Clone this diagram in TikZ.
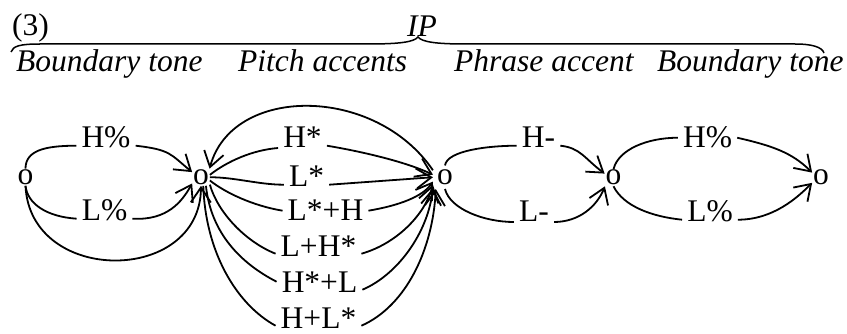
\documentclass[tikz,border=0pt]{standalone}
\usepackage{fontspec}
\setmainfont{Liberation Serif}
\usetikzlibrary{arrows.meta}
\begin{document}
\begin{tikzpicture}[x=1pt,y=-1pt,
  every node/.style={font=\fontsize{31.5pt}{36pt}\selectfont},
  st/.style={inner sep=0.8pt, anchor=base},
  lbl/.style={inner xsep=5pt, inner ysep=2pt, anchor=base},
  hd/.style={font=\fontsize{31.5pt}{36pt}\selectfont\itshape, inner sep=0pt, anchor=base west},
  ed/.style={line width=1.8pt},
  ar/.style={ed, -{Straight Barb[length=15pt,width=20pt]}},
  brace/.style={line width=1.5pt}
]
\useasboundingbox (0,0) rectangle (847,334);

% header
\node[inner sep=0pt, anchor=base west] (num) at (12,36) {(3)};
\node[inner sep=0pt, anchor=base, font=\fontsize{31.5pt}{36pt}\selectfont\itshape] (ip) at (422,37) {IP};
\draw[brace] (11,52) .. controls (13,46) and (20,44) .. (40,44) -- (368,44)
  .. controls (400,44) and (414,42) .. (418,37)
  .. controls (422,42) and (436,44) .. (466,44) -- (795,44)
  .. controls (812,44) and (822,47) .. (824,53);
\node[hd] (bt1) at (16,72) {Boundary tone};
\node[hd] (pa) at (238,72) {Pitch accents};
\node[hd] (pha) at (454,72) {Phrase accent};
\node[hd] (bt2) at (657,72) {Boundary tone};

% states
\node[st] (s0) at (25.5,184.5) {o};
\node[st] (s1) at (201,184.5) {o};
\node[st, inner sep=4pt] (s2) at (445,184.5) {o};
\node[st] (s3) at (613.5,185) {o};
\node[st] (s4) at (821,185) {o};

% labels
\node[lbl] (h1) at (106,148) {H\%};
\node[lbl] (l1) at (104.5,221) {L\%};
\node[lbl] (hs) at (302.5,148) {H*};
\node[lbl] (ls) at (306.5,187) {L*};
\node[lbl] (lsh) at (325.5,221) {L*+H};
\node[lbl] (lhs) at (318.5,256) {L+H*};
\node[lbl] (hsl) at (319.5,292) {H*+L};
\node[lbl] (hls) at (318.5,328) {H+L*};
\node[lbl] (hm) at (538.5,148) {H-};
\node[lbl] (lm) at (534,222) {L-};
\node[lbl] (h2) at (707.5,148) {H\%};
\node[lbl] (l2) at (710,222) {L\%};

% initial boundary tone
\draw[ed] (s0.north) .. controls +(0,-18) and +(-32,0) .. (h1.mid west);
\draw[ar] (h1.mid east) .. controls +(35,4) and +(-22,-18) .. (s1.150);
\draw[ed] (s0.south) .. controls +(2,18) and +(-30,-2) .. (l1.mid west);
\draw[ar] (l1.mid east) .. controls +(35,2) and +(-10,18) .. (s1.215);
\draw[ar] (s0.south) .. controls (30,285) and (200,285) .. (s1.south);

% pitch accents
\draw[ar] (s2.150) .. controls (375,85) and (232,85) .. (s1.45);
\draw[ed] (s1.15) .. controls +(18,-14) and +(-25,2) .. (hs.base west);
\draw[ed] (s1.east) .. controls +(25,0) and +(-25,0) .. (ls.mid west);
\draw[ed] (s1.-20) .. controls +(15,12) and +(-30,-5) .. (lsh.west);
\draw[ed] (s1.-40) .. controls +(8,28) and +(-30,-12) .. (lhs.mid west);
\draw[ed] (s1.-60) .. controls +(5,48) and +(-35,-18) .. (hsl.west);
\draw[ed] (s1.-75) .. controls +(2,65) and +(-40,-22) .. (hls.mid west);
\draw[ar] (hs.mid east) .. controls +(30,5) and +(-30,-14) .. (s2.168);
\draw[ar] (ls.mid east) -- (s2.west);
\draw[ar] (lsh.east) .. controls +(30,-5) and +(-10,15) .. (s2.200);
\draw[ar] (lhs.mid east) .. controls +(35,-10) and +(-8,30) .. (s2.212);
\draw[ar] (hsl.mid east) .. controls +(35,-15) and +(-5,45) .. (s2.222);
\draw[ar] (hls.mid east) .. controls +(45,-20) and +(-3,60) .. (s2.232);

% phrase accent
\draw[ed] (s2.north) .. controls +(2,-15) and +(-28,0) .. (hm.mid west);
\draw[ar] (hm.mid east) .. controls +(20,2) and +(-20,-15) .. (s3.155);
\draw[ed] (s2.south) .. controls +(5,20) and +(-30,0) .. (lm.base west);
\draw[ar] (lm.base east) .. controls +(25,0) and +(-8,20) .. (s3.225);

% final boundary tone
\draw[ed] (s3.north) .. controls +(5,-20) and +(-30,0) .. (h2.west);
\draw[ar] (h2.east) .. controls +(35,8) and +(-20,-20) .. (s4.150);
\draw[ed] (s3.south) .. controls +(10,20) and +(-30,-3) .. (l2.mid west);
\draw[ar] (l2.mid east) .. controls +(35,0) and +(-15,15) .. (s4.210);
\end{tikzpicture}
\end{document}
